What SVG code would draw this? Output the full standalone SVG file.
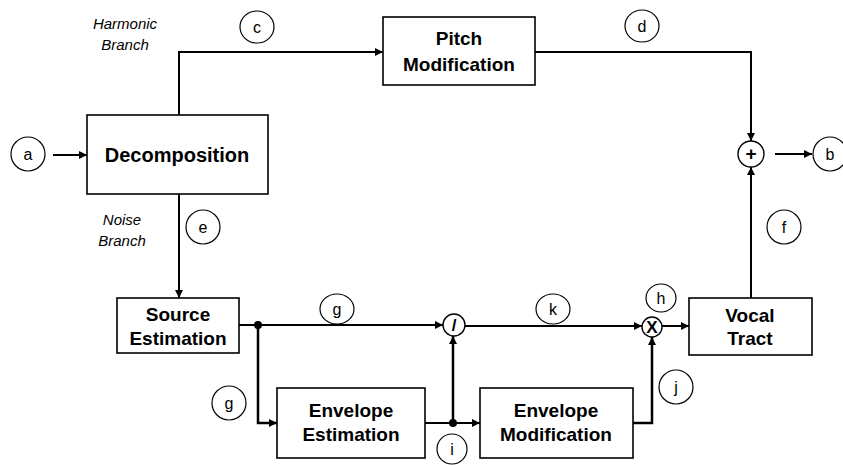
<svg xmlns="http://www.w3.org/2000/svg" width="843" height="465" viewBox="0 0 843 465">
  <style>
    .box { fill: #fff; stroke: #000; stroke-width: 1.6; }
    .btxt { font-family: "Liberation Sans", Arial, sans-serif; font-weight: bold; font-size: 19px; text-anchor: middle; fill: #000; }
    .lbl { fill: #fff; stroke: #000; stroke-width: 1.2; }
    .ltxt { font-family: "Liberation Sans", Arial, sans-serif; font-size: 16px; text-anchor: middle; fill: #000; }
    .itxt { font-family: "Liberation Sans", Arial, sans-serif; font-style: italic; font-size: 15px; text-anchor: middle; fill: #000; }
    .wire { fill: none; stroke: #000; stroke-width: 2; }
    .op { fill: #fff; stroke: #000; stroke-width: 1.4; }
    .optxt { font-family: "Liberation Sans", Arial, sans-serif; font-weight: bold; font-size: 17px; text-anchor: middle; fill: #000; }
  </style>
  <defs>
    <marker id="arrow" viewBox="0 0 10 10" refX="10" refY="5" markerWidth="9" markerHeight="8" markerUnits="userSpaceOnUse" orient="auto">
      <path d="M0,0 L10,5 L0,10 Z" fill="#000"/>
    </marker>
  </defs>

  <!-- branch captions -->
  <text class="itxt" x="125" y="29">Harmonic</text>
  <text class="itxt" x="125" y="50">Branch</text>
  <text class="itxt" x="122" y="225">Noise</text>
  <text class="itxt" x="122" y="246">Branch</text>

  <!-- connectors -->
  <g id="connectors">
    <line class="wire" x1="53" y1="155" x2="87" y2="155" marker-end="url(#arrow)"/>
    <polyline class="wire" points="179,115 179,52 383,52" marker-end="url(#arrow)"/>
    <polyline class="wire" points="535,52 751,52 751,141" marker-end="url(#arrow)"/>
    <line class="wire" x1="751" y1="298" x2="751" y2="167" marker-end="url(#arrow)"/>
    <line class="wire" x1="775" y1="154" x2="812" y2="154" marker-end="url(#arrow)"/>
    <line class="wire" x1="179" y1="194" x2="179" y2="298" marker-end="url(#arrow)"/>
    <line class="wire" x1="239" y1="325" x2="443" y2="325" marker-end="url(#arrow)"/>
    <polyline class="wire" style="stroke-width:2.5" points="258,325 258,423 277,423" marker-end="url(#arrow)"/>
    <line class="wire" x1="425" y1="423" x2="480" y2="423" marker-end="url(#arrow)"/>
    <line class="wire" style="stroke-width:2.5" x1="453" y1="423" x2="453" y2="336" marker-end="url(#arrow)"/>
    <line class="wire" x1="465" y1="326" x2="642" y2="326" marker-end="url(#arrow)"/>
    <polyline class="wire" style="stroke-width:2.5" points="633,423 652,423 652,337" marker-end="url(#arrow)"/>
    <line class="wire" x1="662" y1="326" x2="689" y2="326" marker-end="url(#arrow)"/>
    <circle cx="258" cy="325" r="4" fill="#000"/>
    <circle cx="453" cy="423" r="4" fill="#000"/>
  </g>

  <!-- processing blocks -->
  <g id="decomposition">
    <rect class="box" x="87" y="115" width="181" height="79"/>
    <text class="btxt" x="177" y="162" style="font-size:20px">Decomposition</text>
  </g>
  <g id="pitch-modification">
    <rect class="box" x="383" y="17" width="152" height="68"/>
    <text class="btxt" x="459" y="45">Pitch</text>
    <text class="btxt" x="459" y="71">Modification</text>
  </g>
  <g id="source-estimation">
    <rect class="box" x="117" y="298" width="122" height="55"/>
    <text class="btxt" x="178" y="321">Source</text>
    <text class="btxt" x="178" y="345">Estimation</text>
  </g>
  <g id="envelope-estimation">
    <rect class="box" x="277" y="388" width="148" height="70"/>
    <text class="btxt" x="351" y="417">Envelope</text>
    <text class="btxt" x="351" y="441">Estimation</text>
  </g>
  <g id="envelope-modification">
    <rect class="box" x="480" y="388" width="153" height="70"/>
    <text class="btxt" x="556" y="417">Envelope</text>
    <text class="btxt" x="556" y="441">Modification</text>
  </g>
  <g id="vocal-tract">
    <rect class="box" x="689" y="298" width="123" height="57"/>
    <text class="btxt" x="750" y="322">Vocal</text>
    <text class="btxt" x="750" y="345">Tract</text>
  </g>

  <!-- operators -->
  <g id="sum">
    <circle class="op" cx="751" cy="154" r="13"/>
    <text class="optxt" x="751" y="160" style="font-size:19px">+</text>
  </g>
  <g id="divide">
    <circle class="op" cx="454" cy="325" r="11"/>
    <text class="optxt" x="454" y="331">/</text>
  </g>
  <g id="multiply">
    <circle class="op" cx="652" cy="327" r="10"/>
    <text class="optxt" x="652" y="333">X</text>
  </g>

  <!-- signal labels -->
  <g id="label-a"><ellipse class="lbl" cx="28" cy="154" rx="17" ry="17"/><text class="ltxt" x="28" y="160">a</text></g>
  <g id="label-b"><ellipse class="lbl" cx="830" cy="154" rx="17" ry="17"/><text class="ltxt" x="830" y="160">b</text></g>
  <g id="label-c"><ellipse class="lbl" cx="257" cy="27" rx="17" ry="16"/><text class="ltxt" x="257" y="33">c</text></g>
  <g id="label-d"><ellipse class="lbl" cx="642" cy="26" rx="17" ry="16"/><text class="ltxt" x="642" y="32">d</text></g>
  <g id="label-e"><ellipse class="lbl" cx="203" cy="227" rx="17" ry="17"/><text class="ltxt" x="203" y="233">e</text></g>
  <g id="label-f"><ellipse class="lbl" cx="784" cy="227" rx="17" ry="17"/><text class="ltxt" x="784" y="233">f</text></g>
  <g id="label-g1"><ellipse class="lbl" cx="337" cy="309" rx="17" ry="15"/><text class="ltxt" x="337" y="315">g</text></g>
  <g id="label-k"><ellipse class="lbl" cx="553" cy="309" rx="17" ry="15"/><text class="ltxt" x="553" y="315">k</text></g>
  <g id="label-h"><ellipse class="lbl" cx="661" cy="298" rx="15" ry="14"/><text class="ltxt" x="661" y="304">h</text></g>
  <g id="label-j"><ellipse class="lbl" cx="676" cy="387" rx="17" ry="17"/><text class="ltxt" x="676" y="393">j</text></g>
  <g id="label-g2"><ellipse class="lbl" cx="229" cy="403" rx="17" ry="17"/><text class="ltxt" x="229" y="409">g</text></g>
  <g id="label-i"><ellipse class="lbl" cx="452" cy="449" rx="15" ry="15"/><text class="ltxt" x="452" y="455">i</text></g>
</svg>
